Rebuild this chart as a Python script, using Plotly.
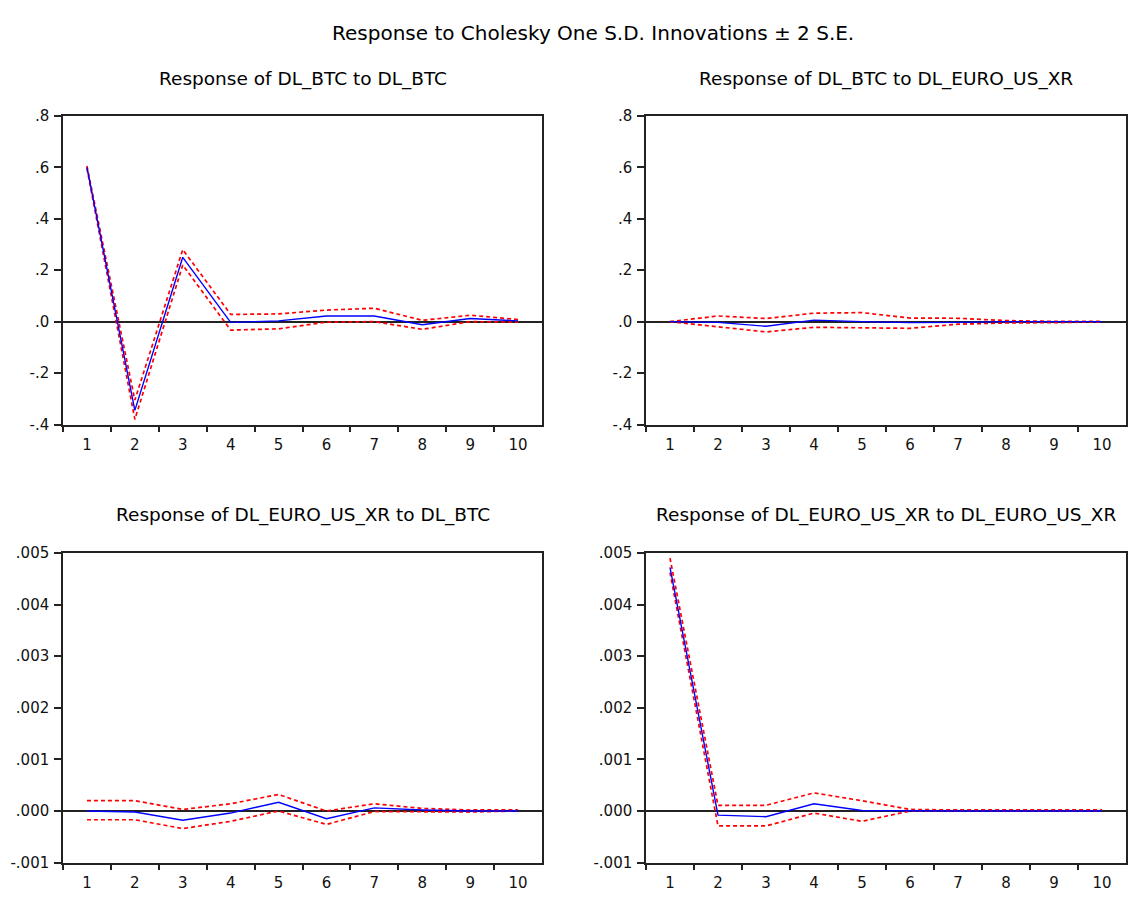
import plotly.graph_objects as go

periods = ["1", "2", "3", "4", "5", "6", "7", "8", "9", "10"]

# Response of DL_BTC to DL_BTC
btc_btc = [0.600, -0.345, 0.250, -0.003, 0.003, 0.022, 0.022, -0.012, 0.012, 0.003]
btc_btc_up = [0.605, -0.305, 0.280, 0.028, 0.030, 0.045, 0.052, 0.005, 0.025, 0.008]
btc_btc_lo = [0.595, -0.380, 0.220, -0.033, -0.028, -0.002, 0.000, -0.030, 0.000, -0.002]

# Response of DL_BTC to DL_EURO_US_XR
btc_eur = [0.000, -0.003, -0.018, 0.006, 0.000, -0.004, -0.003, 0.000, 0.000, 0.000]
btc_eur_up = [0.000, 0.022, 0.012, 0.033, 0.035, 0.014, 0.013, 0.004, 0.001, 0.001]
btc_eur_lo = [0.000, -0.020, -0.040, -0.022, -0.024, -0.026, -0.010, -0.005, -0.004, -0.001]

# Response of DL_EURO_US_XR to DL_BTC
eur_btc = [0.0, -0.00002, -0.00018, -0.00004, 0.00017, -0.00015, 0.00006, 0.00002, 0.0, 0.0]
eur_btc_up = [0.0002, 0.0002, 0.00003, 0.00014, 0.00032, 0.0, 0.00014, 0.00005, 0.00002, 0.00002]
eur_btc_lo = [-0.00017, -0.00017, -0.00034, -0.0002, 0.0, -0.00026, -0.00001, -0.00001, -0.00002, 0.0]

# Response of DL_EURO_US_XR to DL_EURO_US_XR
eur_eur = [0.00472, -0.00008, -0.00011, 0.00014, 0.00001, 0.0, 0.0, 0.0, 0.0, 0.0]
eur_eur_up = [0.0049, 0.00011, 0.00011, 0.00035, 0.0002, 0.00003, 0.00002, 0.00002, 0.00002, 0.00002]
eur_eur_lo = [0.00462, -0.00029, -0.00029, -0.00004, -0.0002, 0.0, 0.0, 0.0, 0.0, 0.0]

top_ticks = [-0.4, -0.2, 0.0, 0.2, 0.4, 0.6, 0.8]
top_labels = ["-.4", "-.2", ".0", ".2", ".4", ".6", ".8"]
bot_ticks = [-0.001, 0.0, 0.001, 0.002, 0.003, 0.004, 0.005]
bot_labels = ["-.001", ".000", ".001", ".002", ".003", ".004", ".005"]

main_title = "Response to Cholesky One S.D. Innovations \u00b1 2 S.E."
titles = ["Response of DL_BTC to DL_BTC", "Response of DL_BTC to DL_EURO_US_XR",
          "Response of DL_EURO_US_XR to DL_BTC", "Response of DL_EURO_US_XR to DL_EURO_US_XR"]

W, H = 1133, 902
panels = [
    dict(resp=btc_btc, up=btc_btc_up, lo=btc_btc_lo, px=(63, 542), py=(109, 424),
         ticks=top_ticks, labels=top_labels, rng=[-0.4, 0.8]),
    dict(resp=btc_eur, up=btc_eur_up, lo=btc_eur_lo, px=(646, 1126), py=(109, 424),
         ticks=top_ticks, labels=top_labels, rng=[-0.4, 0.8]),
    dict(resp=eur_btc, up=eur_btc_up, lo=eur_btc_lo, px=(63, 542), py=(555, 871),
         ticks=bot_ticks, labels=bot_labels, rng=[-0.001, 0.005]),
    dict(resp=eur_eur, up=eur_eur_up, lo=eur_eur_lo, px=(646, 1126), py=(555, 871),
         ticks=bot_ticks, labels=bot_labels, rng=[-0.001, 0.005]),
]

FONT = "DejaVu Sans, Liberation Sans, Arial, sans-serif"
fig = go.Figure()
layout = dict(
    width=W, height=H, margin=dict(l=0, r=0, t=0, b=0),
    paper_bgcolor="white", plot_bgcolor="white", showlegend=False,
    font=dict(family=FONT, color="black"),
)
annotations = [dict(text=main_title, x=593 / W, y=1 - 24 / H, xref="paper", yref="paper",
                    showarrow=False, xanchor="center", yanchor="middle",
                    font=dict(size=20, family=FONT, color="black"))]
for i, p in enumerate(panels):
    n = "" if i == 0 else str(i + 1)
    xa, ya = "x" + n, "y" + n
    for band in (p["up"], p["lo"]):
        fig.add_trace(go.Scatter(x=periods, y=band, mode="lines", xaxis=xa, yaxis=ya,
                                 line=dict(color="#FF0000", width=1.7, dash="4px,3px")))
    fig.add_trace(go.Scatter(x=periods, y=p["resp"], mode="lines", xaxis=xa, yaxis=ya,
                             line=dict(color="#0000FF", width=1.4)))
    layout["xaxis" + n] = dict(
        domain=[p["px"][0] / W, p["px"][1] / W], anchor=ya, type="category",
        range=[-0.5, 9.5], tickson="boundaries", ticks="outside", ticklen=6,
        tickwidth=1.5, tickcolor="#222", showline=True, linecolor="#222", linewidth=1.5,
        mirror=True, showgrid=False, zeroline=False,
        tickfont=dict(size=15, family=FONT, color="#111"), ticklabelstandoff=6,
    )
    layout["yaxis" + n] = dict(
        domain=[1 - p["py"][1] / H, 1 - p["py"][0] / H], anchor=xa,
        range=p["rng"], tickvals=p["ticks"], ticktext=p["labels"],
        ticks="outside", ticklen=7, tickwidth=1.5, tickcolor="#222",
        showline=True, linecolor="#222", linewidth=1.5, mirror=True, showgrid=False,
        zeroline=True, zerolinecolor="#222", zerolinewidth=1.6,
        tickfont=dict(size=15, family=FONT, color="#111"), ticklabelstandoff=2,
    )
    cx = (p["px"][0] + p["px"][1]) / 2 / W
    ty = 71 if i < 2 else 516
    annotations.append(dict(text=titles[i], x=cx, y=1 - ty / H, xref="paper", yref="paper",
                            showarrow=False, xanchor="center", yanchor="middle",
                            font=dict(size=18.5, family=FONT, color="black")))
layout["annotations"] = annotations
fig.update_layout(**layout)
fig.write_html("out.html", config={"displayModeBar": False},
               post_script="document.body.style.margin='0';document.body.style.overflow='hidden';")
